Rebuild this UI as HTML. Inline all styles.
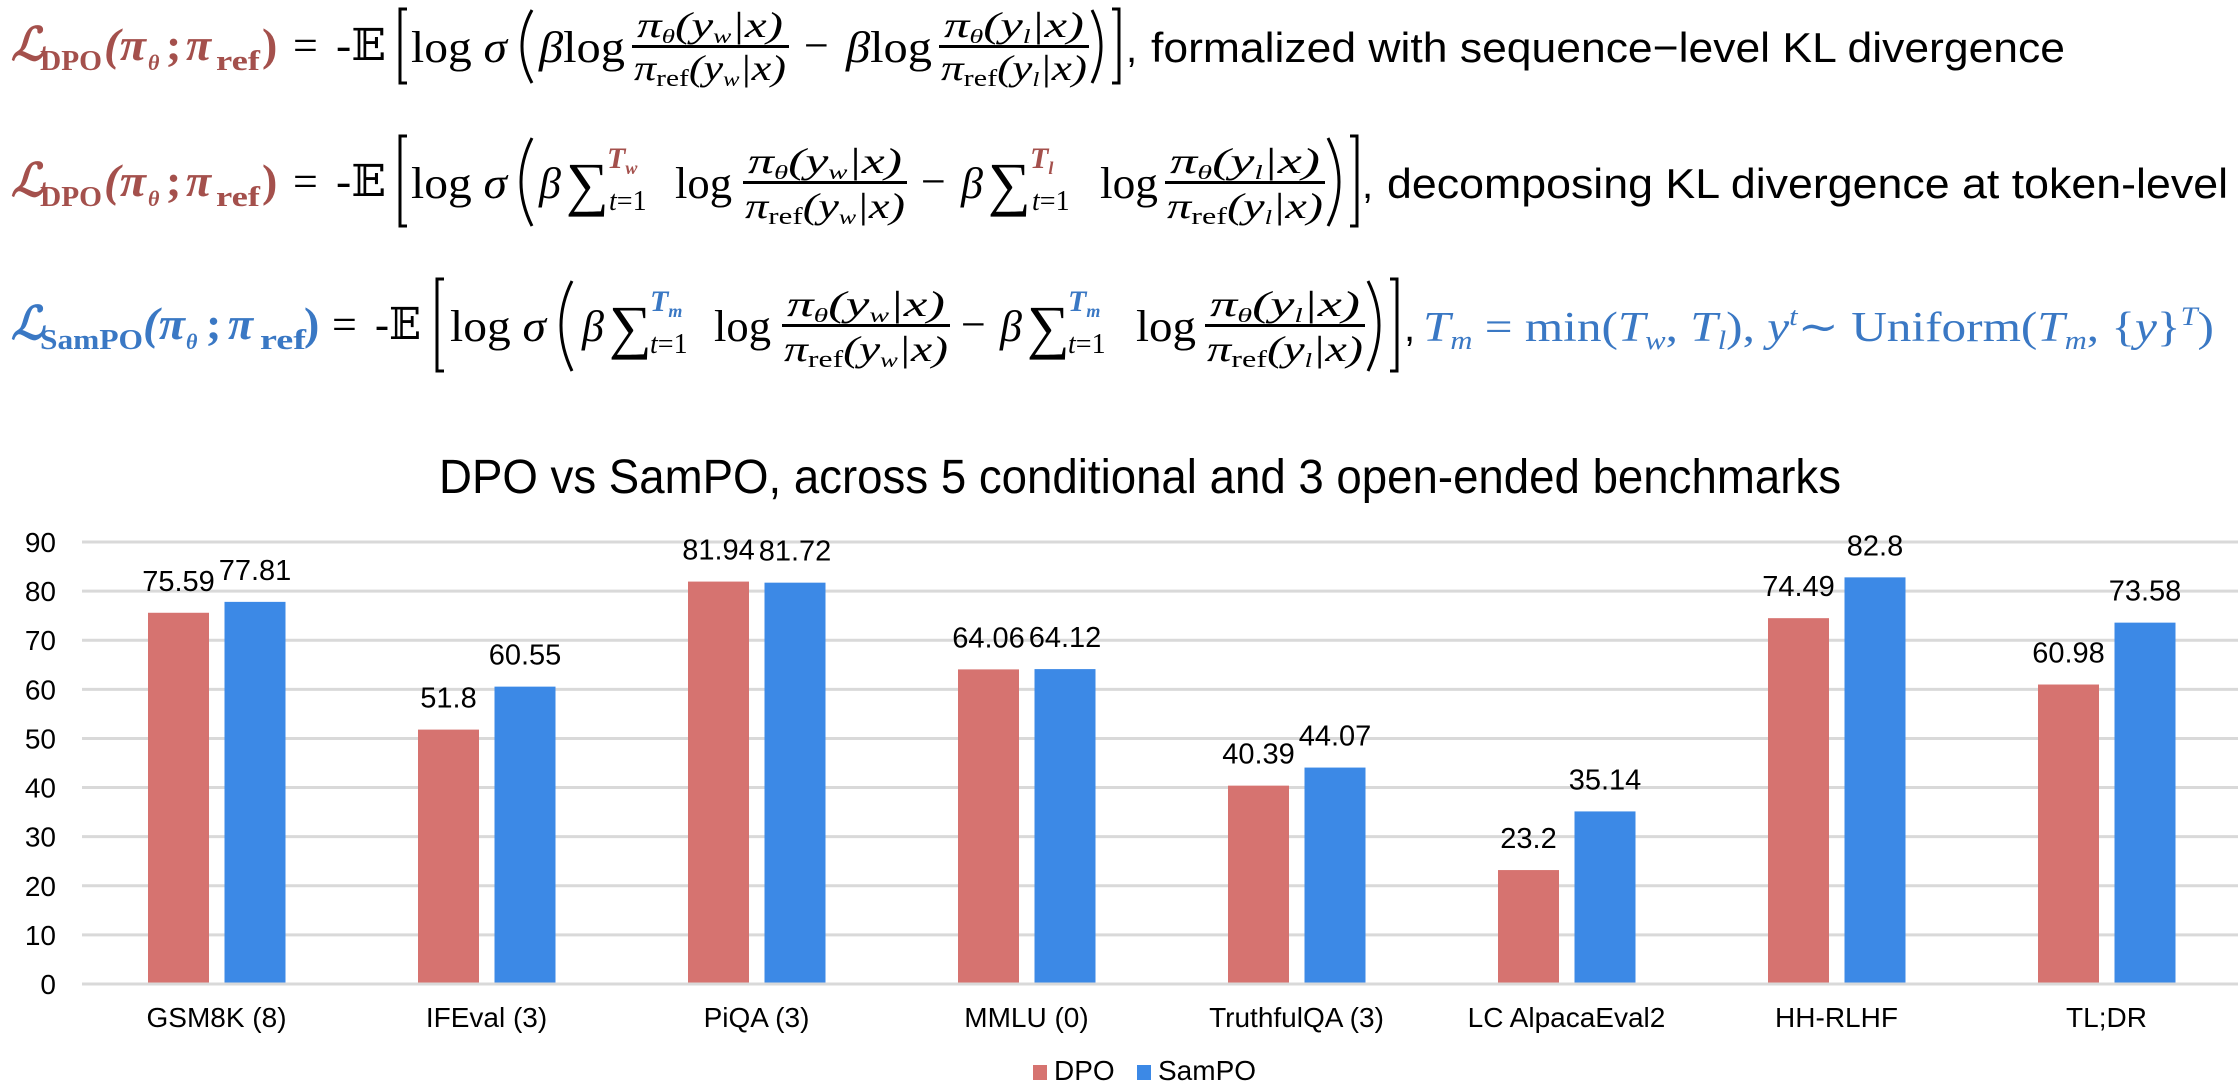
<!DOCTYPE html>
<html><head><meta charset="utf-8"><style>
html,body{margin:0;padding:0;background:#fff;width:2238px;height:1090px;overflow:hidden}
svg{display:block}
.m{font-family:"Liberation Serif","DejaVu Serif",serif}
.s{font-family:"Liberation Sans","DejaVu Sans",sans-serif}
</style></head><body>
<svg id="fig" width="2238" height="1090" viewBox="0 0 2238 1090" xmlns="http://www.w3.org/2000/svg">
<!-- Equation 1 -->
<g class="m" fill="#000">
 <g fill="#a4504c" font-weight="bold">
  <text x="11" y="60" font-size="46" font-style="italic">ℒ</text>
  <text x="40" y="70" font-size="28" textLength="62" lengthAdjust="spacingAndGlyphs">DPO</text>
  <text x="104" y="60" font-size="46" font-style="italic" textLength="42" lengthAdjust="spacingAndGlyphs">(π</text>
  <text x="148" y="70" font-size="22" font-style="italic">θ</text>
  <text x="166" y="60" font-size="46">;</text>
  <text x="186" y="60" font-size="46" font-style="italic">π</text>
  <text x="216" y="70" font-size="28" textLength="44" lengthAdjust="spacingAndGlyphs">ref</text>
  <text x="262" y="60" font-size="46">)</text>
 </g>
 <text x="293" y="60" font-size="44">=</text>
 <text x="336" y="60" font-size="44" textLength="50" lengthAdjust="spacingAndGlyphs">-𝔼</text>
 <path d="M407 9 H400 V83 H407" fill="none" stroke="#000" stroke-width="3"/>
 <text x="411" y="62" font-size="44" textLength="96" lengthAdjust="spacingAndGlyphs">log <tspan font-style="italic">σ</tspan></text>
 <path d="M532 10 Q512 46 532 83" fill="none" stroke="#000" stroke-width="3"/>
 <text x="539" y="62" font-size="44" textLength="86" lengthAdjust="spacingAndGlyphs"><tspan font-style="italic">β</tspan>log</text>
 <text x="637" y="37" font-size="36" font-style="italic" textLength="146" lengthAdjust="spacingAndGlyphs">π<tspan font-size="20" dy="6">θ</tspan><tspan dy="-6">(y</tspan><tspan font-size="20" dy="6">w</tspan><tspan dy="-6">|x)</tspan></text>
 <rect x="632" y="45" width="157" height="3"/>
 <text x="634" y="80" font-size="36" font-style="italic" textLength="152" lengthAdjust="spacingAndGlyphs">π<tspan font-size="24" dy="6" font-style="normal">ref</tspan><tspan dy="-6">(y</tspan><tspan font-size="20" dy="6">w</tspan><tspan dy="-6">|x)</tspan></text>
 <text x="804" y="60" font-size="44">−</text>
 <text x="846" y="62" font-size="44" textLength="86" lengthAdjust="spacingAndGlyphs"><tspan font-style="italic">β</tspan>log</text>
 <text x="944" y="37" font-size="36" font-style="italic" textLength="140" lengthAdjust="spacingAndGlyphs">π<tspan font-size="20" dy="6">θ</tspan><tspan dy="-6">(y</tspan><tspan font-size="20" dy="6">l</tspan><tspan dy="-6">|x)</tspan></text>
 <rect x="939" y="45" width="150" height="3"/>
 <text x="941" y="80" font-size="36" font-style="italic" textLength="146" lengthAdjust="spacingAndGlyphs">π<tspan font-size="24" dy="6" font-style="normal">ref</tspan><tspan dy="-6">(y</tspan><tspan font-size="20" dy="6">l</tspan><tspan dy="-6">|x)</tspan></text>
 <path d="M1092 10 Q1110 46 1092 83" fill="none" stroke="#000" stroke-width="3"/>
 <path d="M1112 9 H1119 V83 H1112" fill="none" stroke="#000" stroke-width="3"/>
 <text x="1126" y="62" font-size="40" class="s">,</text>
 <text x="1151" y="62" font-size="42" class="s" textLength="914" lengthAdjust="spacingAndGlyphs">formalized with sequence−level KL divergence</text>
</g>
<!-- Equation 2 -->
<g transform="translate(0,136)" class="m" fill="#000">
 <g fill="#a4504c" font-weight="bold">
  <text x="11" y="60" font-size="46" font-style="italic">ℒ</text>
  <text x="40" y="70" font-size="28" textLength="62" lengthAdjust="spacingAndGlyphs">DPO</text>
  <text x="104" y="60" font-size="46" font-style="italic" textLength="42" lengthAdjust="spacingAndGlyphs">(π</text>
  <text x="148" y="70" font-size="22" font-style="italic">θ</text>
  <text x="166" y="60" font-size="46">;</text>
  <text x="186" y="60" font-size="46" font-style="italic">π</text>
  <text x="216" y="70" font-size="28" textLength="44" lengthAdjust="spacingAndGlyphs">ref</text>
  <text x="262" y="60" font-size="46">)</text>
 </g>
 <text x="293" y="60" font-size="44">=</text>
 <text x="336" y="60" font-size="44" textLength="50" lengthAdjust="spacingAndGlyphs">-𝔼</text>
 <path d="M407 0 H400 V90 H407" fill="none" stroke="#000" stroke-width="3"/>
 <text x="411" y="62" font-size="44" textLength="96" lengthAdjust="spacingAndGlyphs">log <tspan font-style="italic">σ</tspan></text>
 <path d="M532 2 Q510 46 532 90" fill="none" stroke="#000" stroke-width="3"/>
 <text x="539" y="62" font-size="44" font-style="italic">β</text>
 <text x="566" y="68" font-size="60">∑</text>
 <text x="607" y="32" font-size="30" font-style="italic" font-weight="bold" fill="#a4504c">T<tspan font-size="18" dy="6">w</tspan></text>
 <text x="609" y="74" font-size="28" font-style="italic">t<tspan font-style="normal">=1</tspan></text>
 <text x="675" y="62" font-size="44" textLength="57" lengthAdjust="spacingAndGlyphs">log</text>
 <text x="748" y="37" font-size="36" font-style="italic" textLength="154" lengthAdjust="spacingAndGlyphs">π<tspan font-size="20" dy="6">θ</tspan><tspan dy="-6">(y</tspan><tspan font-size="20" dy="6">w</tspan><tspan dy="-6">|x)</tspan></text>
 <rect x="743" y="45" width="164" height="3"/>
 <text x="745" y="82" font-size="36" font-style="italic" textLength="160" lengthAdjust="spacingAndGlyphs">π<tspan font-size="24" dy="6" font-style="normal">ref</tspan><tspan dy="-6">(y</tspan><tspan font-size="20" dy="6">w</tspan><tspan dy="-6">|x)</tspan></text>
 <text x="921" y="60" font-size="44">−</text>
 <text x="961" y="62" font-size="44" font-style="italic">β</text>
 <text x="988" y="68" font-size="60">∑</text>
 <text x="1030" y="32" font-size="30" font-style="italic" font-weight="bold" fill="#a4504c">T<tspan font-size="18" dy="6">l</tspan></text>
 <text x="1032" y="74" font-size="28" font-style="italic">t<tspan font-style="normal">=1</tspan></text>
 <text x="1100" y="62" font-size="44" textLength="58" lengthAdjust="spacingAndGlyphs">log</text>
 <text x="1170" y="37" font-size="36" font-style="italic" textLength="150" lengthAdjust="spacingAndGlyphs">π<tspan font-size="20" dy="6">θ</tspan><tspan dy="-6">(y</tspan><tspan font-size="20" dy="6">l</tspan><tspan dy="-6">|x)</tspan></text>
 <rect x="1165" y="45" width="160" height="3"/>
 <text x="1167" y="82" font-size="36" font-style="italic" textLength="156" lengthAdjust="spacingAndGlyphs">π<tspan font-size="24" dy="6" font-style="normal">ref</tspan><tspan dy="-6">(y</tspan><tspan font-size="20" dy="6">l</tspan><tspan dy="-6">|x)</tspan></text>
 <path d="M1328 2 Q1350 46 1328 90" fill="none" stroke="#000" stroke-width="3"/>
 <path d="M1350 0 H1357 V90 H1350" fill="none" stroke="#000" stroke-width="3"/>
 <text x="1362" y="62" font-size="40" class="s">,</text>
 <text x="1387" y="62" font-size="42" class="s" textLength="841" lengthAdjust="spacingAndGlyphs">decomposing KL divergence at token-level</text>
</g>
<!-- Equation 3 -->
<g transform="translate(0,279)" class="m" fill="#000">
 <g fill="#3a78c4" font-weight="bold">
  <text x="11" y="60" font-size="46" font-style="italic">ℒ</text>
  <text x="40" y="70" font-size="28" textLength="103" lengthAdjust="spacingAndGlyphs">SamPO</text>
  <text x="143" y="60" font-size="46" font-style="italic" textLength="42" lengthAdjust="spacingAndGlyphs">(π</text>
  <text x="186" y="70" font-size="22" font-style="italic">θ</text>
  <text x="206" y="60" font-size="46">;</text>
  <text x="228" y="60" font-size="46" font-style="italic">π</text>
  <text x="260" y="70" font-size="28" textLength="46" lengthAdjust="spacingAndGlyphs">ref</text>
  <text x="304" y="60" font-size="46">)</text>
 </g>
 <text x="332" y="60" font-size="44">=</text>
 <text x="375" y="60" font-size="44" textLength="46" lengthAdjust="spacingAndGlyphs">-𝔼</text>
 <path d="M444 0 H437 V92 H444" fill="none" stroke="#000" stroke-width="3"/>
 <text x="450" y="62" font-size="44" textLength="96" lengthAdjust="spacingAndGlyphs">log <tspan font-style="italic">σ</tspan></text>
 <path d="M572 2 Q550 46 572 92" fill="none" stroke="#000" stroke-width="3"/>
 <text x="582" y="62" font-size="44" font-style="italic">β</text>
 <text x="609" y="68" font-size="60">∑</text>
 <text x="650" y="32" font-size="30" font-style="italic" font-weight="bold" fill="#3a78c4">T<tspan font-size="18" dy="6">m</tspan></text>
 <text x="650" y="74" font-size="28" font-style="italic">t<tspan font-style="normal">=1</tspan></text>
 <text x="714" y="62" font-size="44" textLength="57" lengthAdjust="spacingAndGlyphs">log</text>
 <text x="787" y="37" font-size="36" font-style="italic" textLength="158" lengthAdjust="spacingAndGlyphs">π<tspan font-size="20" dy="6">θ</tspan><tspan dy="-6">(y</tspan><tspan font-size="20" dy="6">w</tspan><tspan dy="-6">|x)</tspan></text>
 <rect x="782" y="45" width="168" height="3"/>
 <text x="784" y="82" font-size="36" font-style="italic" textLength="164" lengthAdjust="spacingAndGlyphs">π<tspan font-size="24" dy="6" font-style="normal">ref</tspan><tspan dy="-6">(y</tspan><tspan font-size="20" dy="6">w</tspan><tspan dy="-6">|x)</tspan></text>
 <text x="961" y="60" font-size="44">−</text>
 <text x="1000" y="62" font-size="44" font-style="italic">β</text>
 <text x="1027" y="68" font-size="60">∑</text>
 <text x="1068" y="32" font-size="30" font-style="italic" font-weight="bold" fill="#3a78c4">T<tspan font-size="18" dy="6">m</tspan></text>
 <text x="1068" y="74" font-size="28" font-style="italic">t<tspan font-style="normal">=1</tspan></text>
 <text x="1136" y="62" font-size="44" textLength="60" lengthAdjust="spacingAndGlyphs">log</text>
 <text x="1210" y="37" font-size="36" font-style="italic" textLength="150" lengthAdjust="spacingAndGlyphs">π<tspan font-size="20" dy="6">θ</tspan><tspan dy="-6">(y</tspan><tspan font-size="20" dy="6">l</tspan><tspan dy="-6">|x)</tspan></text>
 <rect x="1205" y="45" width="160" height="3"/>
 <text x="1207" y="82" font-size="36" font-style="italic" textLength="156" lengthAdjust="spacingAndGlyphs">π<tspan font-size="24" dy="6" font-style="normal">ref</tspan><tspan dy="-6">(y</tspan><tspan font-size="20" dy="6">l</tspan><tspan dy="-6">|x)</tspan></text>
 <path d="M1368 2 Q1390 46 1368 92" fill="none" stroke="#000" stroke-width="3"/>
 <path d="M1390 0 H1397 V92 H1390" fill="none" stroke="#000" stroke-width="3"/>
 <text x="1404" y="62" font-size="40" class="s">,</text>
 <text x="1423" y="62" font-size="42" fill="#3a78c4" textLength="791" lengthAdjust="spacingAndGlyphs"><tspan font-style="italic">T</tspan><tspan font-size="26" dy="8" font-style="italic">m</tspan><tspan dy="-8"> = min(</tspan><tspan font-style="italic">T</tspan><tspan font-size="26" dy="8" font-style="italic">w</tspan><tspan dy="-8">, </tspan><tspan font-style="italic">T</tspan><tspan font-size="26" dy="8" font-style="italic">l</tspan><tspan dy="-8">), </tspan><tspan font-style="italic">y</tspan><tspan font-size="26" dy="-16" font-style="italic">t</tspan><tspan dy="16">∼ Uniform(</tspan><tspan font-style="italic">T</tspan><tspan font-size="26" dy="8" font-style="italic">m</tspan><tspan dy="-8">, {</tspan><tspan font-style="italic">y</tspan><tspan>}</tspan><tspan font-size="26" dy="-16" font-style="italic">T</tspan><tspan dy="16">)</tspan></text>
</g>
<!-- Chart -->
<text x="1140" y="493" font-size="48" class="s" text-anchor="middle" textLength="1402" lengthAdjust="spacingAndGlyphs">DPO vs SamPO, across 5 conditional and 3 open-ended benchmarks</text>
<g id="grid"></g>
<g id="bars"></g>
<g id="legend">
 <rect x="1033" y="1065" width="14" height="15" fill="#d67370"/>
 <text x="1054" y="1080" font-size="28" class="s">DPO</text>
 <rect x="1137" y="1065" width="14" height="15" fill="#3c89e6"/>
 <text x="1158" y="1080" font-size="28" class="s">SamPO</text>
</g>
</svg>
<script>
const categories = ["GSM8K (8)","IFEval (3)","PiQA (3)","MMLU (0)","TruthfulQA (3)","LC AlpacaEval2","HH-RLHF","TL;DR"];
const dpoValues = [75.59,51.8,81.94,64.06,40.39,23.2,74.49,60.98];
const sampoValues = [77.81,60.55,81.72,64.12,44.07,35.14,82.8,73.58];
const yTicks = [0,10,20,30,40,50,60,70,80,90];
const yMax = 90;

const NS = "http://www.w3.org/2000/svg";
const plotLeft = 81.5, band = 270, y0 = 984, yTop = 542;
function xScale(i){ return plotLeft + band*(i+0.5); }
function yScale(v){ return y0 - v*(y0-yTop)/yMax; }
function mk(tag, attrs, parent){
  const el = document.createElementNS(NS, tag);
  for (const k in attrs) el.setAttribute(k, attrs[k]);
  parent.appendChild(el);
  return el;
}
const grid = document.getElementById('grid');
const bars = document.getElementById('bars');
yTicks.forEach(t => {
  const y = yScale(t);
  const ln = mk('line', {x1:82, x2:2238, y1:y, y2:y, stroke:'#d9d9d9', 'stroke-width':3}, grid);
  
  
  const tx = mk('text', {x:56, y:y+10, 'font-size':28, 'text-anchor':'end', class:'s'}, grid);
  tx.textContent = t;
  
  
});
const barW = 61;
categories.forEach((c, i) => {
  const cx = xScale(i);
  const series = [[dpoValues[i], cx-68.5, '#d67370', 'bar-dpo'], [sampoValues[i], cx+8, '#3c89e6', 'bar-sampo']];
  series.forEach(s => {
    const top = yScale(s[0]);
    const r = mk('rect', {x:s[1], y:top, width:barW, height:y0-top-1.5, fill:s[2]}, bars);
    
    
    const lb = mk('text', {x:s[1]+barW/2, y:top-22, 'font-size':29, 'text-anchor':'middle', class:'s'}, bars);
    lb.textContent = s[0];
    
    
  });
  const cl = mk('text', {x:cx, y:1027, 'font-size':28, 'text-anchor':'middle', class:'s'}, bars);
  cl.textContent = c;
  
  
});
</script>
</body></html>
